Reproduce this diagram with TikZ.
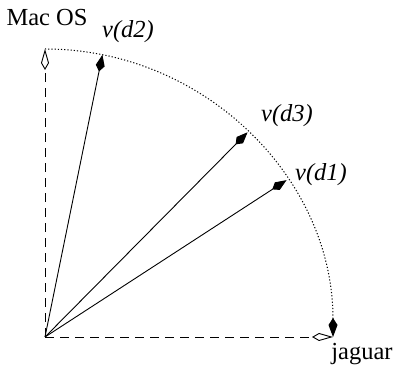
\documentclass[tikz,border=0pt]{standalone}
\usepackage{fontspec}
\setmainfont{Liberation Serif}
\usepackage{tikz}
\usetikzlibrary{arrows.meta, positioning, calc}

\begin{document}
\begin{tikzpicture}[
    x=1pt, y=1pt,
    lbl/.style={inner sep=0pt, font=\fontsize{24.5}{28}\selectfont},
    vlbl/.style={lbl, font=\fontsize{24.5}{28}\selectfont\itshape},
    axis/.style={line width=0.9pt, dash pattern=on 9pt off 6pt, -{Kite[open, length=21pt, width=8pt, inset=7pt, line width=0.9pt]}},
    vec/.style={line width=0.9pt, -{Kite[length=17pt, width=9pt, inset=6pt]}},
    arcline/.style={line width=1pt, dash pattern=on 1.2pt off 2pt, -{Kite[length=19pt, width=9pt, inset=7pt]}}
]
    \useasboundingbox (0,0) rectangle (396,369);
    \coordinate (O) at (45,32);
    \coordinate (top) at ($(O)+(90:288)$);
    \coordinate (right) at ($(O)+(0:288)$);
    \coordinate (d1) at ($(O)+(33:288)$);
    \coordinate (d2) at ($(O)+(78.5:288)$);
    \coordinate (d3) at ($(O)+(45.3:288)$);

    % axes
    \draw[axis] (O) -- (top);
    \draw[axis] (O) -- (right);
    \node[lbl] (mac) at (47,351) {Mac OS};
    \node[lbl] (jag) at (362,15) {jaguar};

    % unit circle
    \draw[arcline] (top) arc[start angle=90, end angle=0, radius=288];

    % document vectors
    \draw[vec] (O) -- (d1);
    \draw[vec] (O) -- (d2);
    \draw[vec] (O) -- (d3);
    \node[vlbl] (l1) at (321,194) {v(d1)};
    \node[vlbl] (l2) at (128,337) {v(d2)};
    \node[vlbl] (l3) at (287,253) {v(d3)};
\end{tikzpicture}
\end{document}
